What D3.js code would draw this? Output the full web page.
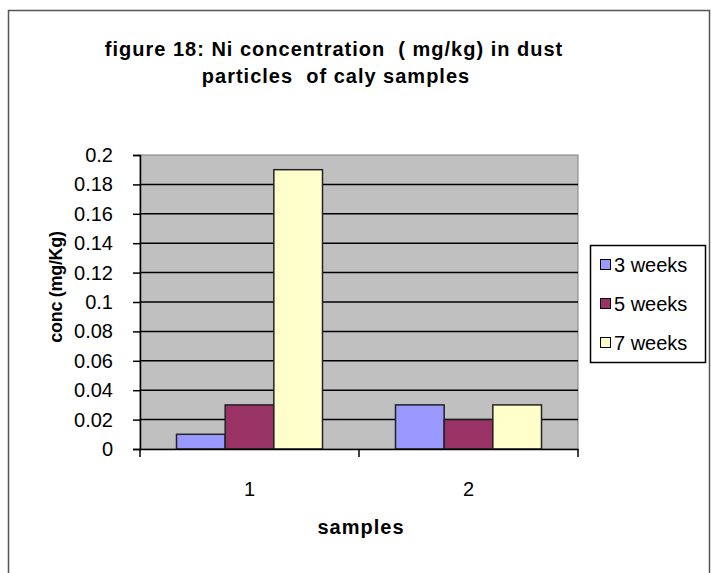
<!DOCTYPE html>
<html>
<head>
<meta charset="utf-8">
<title>Ni concentration chart</title>
<script src="https://cdn.jsdelivr.net/npm/d3@7"></script>
<style>
  body { margin: 0; background: #fff; }
  text { font-family: "Liberation Sans", Arial, sans-serif; fill: #000; }
</style>
</head>
<body>
<script>
// data
var samples = ["1", "2"];
var seriesNames = ["3 weeks", "5 weeks", "7 weeks"];
var weeks3 = [0.01, 0.03];
var weeks5 = [0.03, 0.02];
var weeks7 = [0.19, 0.03];
var yTicks = [0, 0.02, 0.04, 0.06, 0.08, 0.1, 0.12, 0.14, 0.16, 0.18, 0.2];
var colors = ["#9999FF", "#993366", "#FFFFCC"];

var w = 711, h = 573;
var plot = { left: 140, right: 578, top: 155, bottom: 449 };

var svg = d3.select("body").append("svg")
  .attr("width", w)
  .attr("height", h);

// outer chart frame
svg.append("rect")
  .attr("x", 8.5).attr("y", 10.5)
  .attr("width", 701).attr("height", 580)
  .attr("fill", "#fff")
  .attr("stroke", "#555")
  .attr("stroke-width", 1.5);

var series = seriesNames.map(function(name, i) {
  return { name: name, values: [weeks3, weeks5, weeks7][i], color: colors[i] };
});

var x0 = d3.scaleBand()
  .domain(samples)
  .range([plot.left, plot.right]);

var x1 = d3.scaleBand()
  .domain(seriesNames)
  .range([0, x0.bandwidth()])
  .paddingInner(0)
  .paddingOuter(0.75);

var y = d3.scaleLinear()
  .domain([0, 0.2])
  .range([plot.bottom, plot.top]);

// plot area
svg.append("rect")
  .attr("x", plot.left).attr("y", plot.top)
  .attr("width", plot.right - plot.left)
  .attr("height", plot.bottom - plot.top)
  .attr("fill", "#C0C0C0")
  .attr("stroke", "#808080");

// gridlines
svg.selectAll(".grid")
  .data(yTicks.slice(1, -1))
  .enter()
  .append("line")
  .attr("x1", plot.left).attr("x2", plot.right)
  .attr("y1", function(d) { return y(d); })
  .attr("y2", function(d) { return y(d); })
  .attr("stroke", "#000")
  .attr("stroke-width", 1.5);

// bars
var groups = svg.selectAll(".group")
  .data(samples)
  .enter()
  .append("g")
  .attr("transform", function(d) { return "translate(" + x0(d) + ",0)"; });

groups.selectAll("rect")
  .data(function(d, i) {
    return series.map(function(s) { return { name: s.name, value: s.values[i], color: s.color }; });
  })
  .enter()
  .append("rect")
  .attr("x", function(d) { return x1(d.name); })
  .attr("y", function(d) { return y(d.value); })
  .attr("width", x1.bandwidth())
  .attr("height", function(d) { return plot.bottom - y(d.value); })
  .attr("fill", function(d) { return d.color; })
  .attr("stroke", "#222")
  .attr("stroke-width", 1.5);

// y axis
var yAxis = d3.axisLeft(y)
  .tickValues(yTicks)
  .tickSize(7)
  .tickPadding(20)
  .tickFormat(function(d) { return String(+d.toFixed(2)); });

var gy = svg.append("g")
  .attr("transform", "translate(" + plot.left + ",0)")
  .call(yAxis);
gy.select(".domain").attr("stroke", "#000").attr("stroke-width", 1.5);
gy.selectAll(".tick line").attr("stroke", "#000").attr("stroke-width", 1.5);
gy.selectAll("text").attr("font-size", "20px").attr("font-family", "Liberation Sans, Arial, sans-serif");

// x axis: labels centred, tick marks between categories
var xAxis = d3.axisBottom(x0).tickSize(0).tickPadding(33);
var gx = svg.append("g")
  .attr("transform", "translate(0," + plot.bottom + ")")
  .call(xAxis);
gx.select(".domain").attr("stroke", "#000").attr("stroke-width", 1.5);
gx.selectAll("text").attr("font-size", "20px").attr("font-family", "Liberation Sans, Arial, sans-serif");

var bounds = samples.map(function(d) { return x0(d); }).concat([x0.range()[1]]);
gx.selectAll(".btick")
  .data(bounds)
  .enter()
  .append("line")
  .attr("x1", function(d) { return d; })
  .attr("x2", function(d) { return d; })
  .attr("y1", 0).attr("y2", 8)
  .attr("stroke", "#000")
  .attr("stroke-width", 1.5);

// titles
var title = svg.append("text")
  .attr("text-anchor", "middle")
  .attr("font-size", "20px")
  .attr("font-weight", "bold")
  .attr("letter-spacing", "1px");
title.append("tspan").attr("x", 334).attr("y", 56).text("figure 18: Ni concentration  ( mg/kg) in dust");
title.append("tspan").attr("x", 336).attr("y", 83).text("particles  of caly samples");
title.attr("xml:space", "preserve").style("white-space", "pre");

svg.append("text")
  .attr("x", 361).attr("y", 534)
  .attr("text-anchor", "middle")
  .attr("font-size", "20px")
  .attr("font-weight", "bold")
  .attr("letter-spacing", "1px")
  .text("samples");

svg.append("text")
  .attr("transform", "translate(62,287) rotate(-90)")
  .attr("text-anchor", "middle")
  .attr("font-size", "18px")
  .attr("font-weight", "bold")
  .attr("letter-spacing", "-0.3px")
  .text("conc (mg/Kg)");

// legend
var legend = svg.append("g");
legend.append("rect")
  .attr("x", 590.5).attr("y", 245.5)
  .attr("width", 115).attr("height", 117)
  .attr("fill", "#fff")
  .attr("stroke", "#000")
  .attr("stroke-width", 1.5);

var items = legend.selectAll(".item")
  .data(series)
  .enter()
  .append("g")
  .attr("transform", function(d, i) { return "translate(600," + [264, 303, 342][i] + ")"; });

items.append("rect")
  .attr("x", 0.5).attr("y", -4.5)
  .attr("width", 10).attr("height", 10)
  .attr("fill", function(d) { return d.color; })
  .attr("stroke", "#000");

items.append("text")
  .attr("x", 14).attr("y", 8)
  .attr("font-size", "20px")
  .text(function(d) { return d.name; });
</script>
</body>
</html>
